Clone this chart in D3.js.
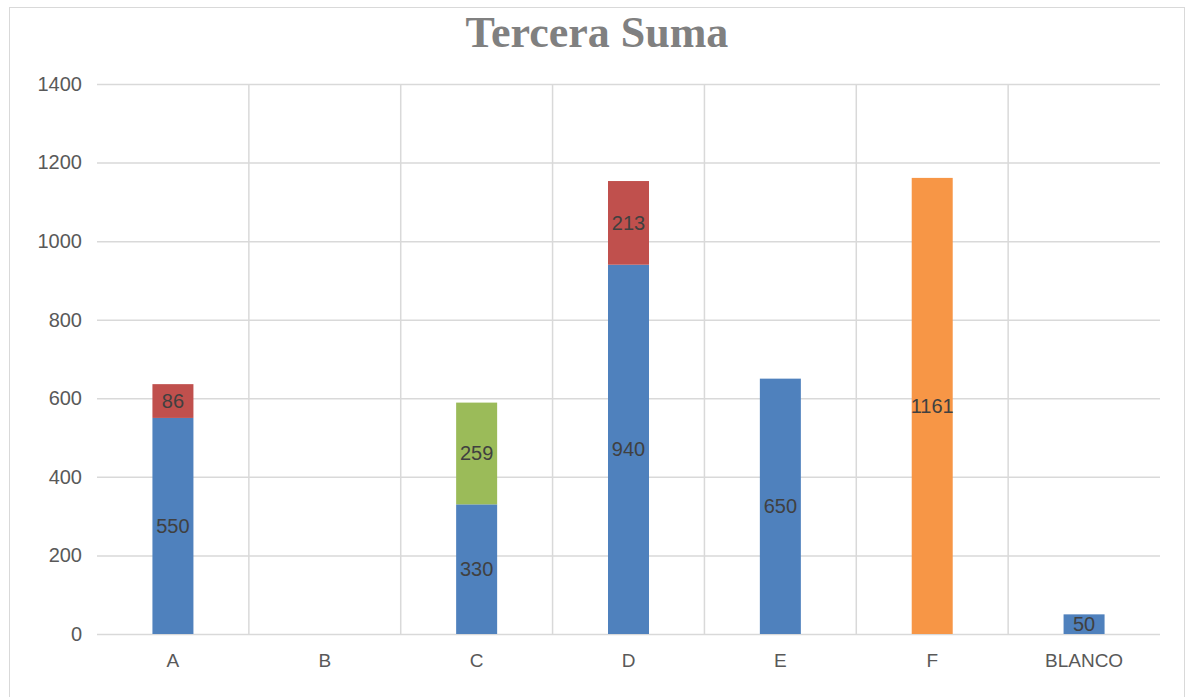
<!DOCTYPE html>
<html><head><meta charset="utf-8">
<script src="https://cdn.jsdelivr.net/npm/d3@7"></script>
<style>body{margin:0;background:#fff}svg{display:block}</style>
</head><body>
<svg id="c" width="1189" height="697"></svg>
<script>
const categories = ["A","B","C","D","E","F","BLANCO"];
const seriesNames = ["Serie1","Serie2","Serie3","Serie4"];
const serie1 = [550,0,330,940,650,0,50];
const serie2 = [86,0,0,213,0,0,0];
const serie3 = [0,0,259,0,0,0,0];
const serie4 = [0,0,0,0,0,1161,0];
const yTicks = [0,200,400,600,800,1000,1200,1400];
const colors = ["#4F81BD","#C0504D","#9BBB59","#F79646"];
const title = "Tercera Suma";

const svg = d3.select("#c");
const L = 97, R = 1160, T = 84, B = 634;

svg.append("rect").attr("x",9.5).attr("y",7.5).attr("width",1175).attr("height",700)
  .attr("fill","#fff").attr("stroke","#d9d9d9").attr("stroke-width",1);

const x = d3.scaleBand().domain(categories).range([L,R]).padding(0);
const y = d3.scaleLinear().domain([0,1400]).range([B,T]);

svg.append("g").selectAll("line").data(yTicks).join("line")
  .attr("x1",L).attr("x2",R).attr("y1",d=>y(d)+0.5).attr("y2",d=>y(d)+0.5)
  .attr("stroke","#d9d9d9").attr("stroke-width",1.5);
svg.append("g").selectAll("line").data(categories.slice(1)).join("line")
  .attr("x1",d=>x(d)).attr("x2",d=>x(d)).attr("y1",T).attr("y2",B)
  .attr("stroke","#d9d9d9").attr("stroke-width",1.5);

const yAxis = d3.axisLeft(y).tickValues(yTicks).tickFormat(d3.format("d")).tickSize(0).tickPadding(15);
const gy = svg.append("g").attr("transform",`translate(${L},0)`).call(yAxis);
gy.select(".domain").remove();
gy.selectAll("text").attr("fill","#595959").style("font-family","Liberation Sans, Arial, sans-serif").style("font-size","20px");

const xAxis = d3.axisBottom(x).tickSize(0).tickPadding(20);
const gx = svg.append("g").attr("transform",`translate(0,${B})`).call(xAxis);
gx.select(".domain").remove();
gx.selectAll("text").attr("fill","#595959").style("font-family","Liberation Sans, Arial, sans-serif").style("font-size","19px");

const rows = categories.map((c,i)=>({cat:c, Serie1:serie1[i], Serie2:serie2[i], Serie3:serie3[i], Serie4:serie4[i]}));
const stack = d3.stack().keys(seriesNames)(rows);
const bw = x.bandwidth()*0.27;
const gb = svg.append("g");
stack.forEach((s,si)=>{
  s.forEach(d=>{
    const v = d[1]-d[0];
    if(v<=0) return;
    const cx = x(d.data.cat)+x.bandwidth()/2;
    gb.append("rect").attr("x",cx-bw/2).attr("width",bw)
      .attr("y",y(d[1])).attr("height",y(d[0])-y(d[1]))
      .attr("fill",colors[si]);
    gb.append("text").attr("x",cx).attr("y",(y(d[0])+y(d[1]))/2)
      .attr("text-anchor","middle").attr("dominant-baseline","central")
      .attr("fill","#404040").style("font-family","Liberation Sans, Arial, sans-serif").style("font-size","20px")
      .text(v);
  });
});

svg.append("text").attr("x",597).attr("y",47).attr("text-anchor","middle")
  .attr("fill","#808080").style("font-family","Liberation Serif, Times New Roman, serif")
  .style("font-weight","bold").style("font-size","44px").text(title);
</script>
</body></html>
